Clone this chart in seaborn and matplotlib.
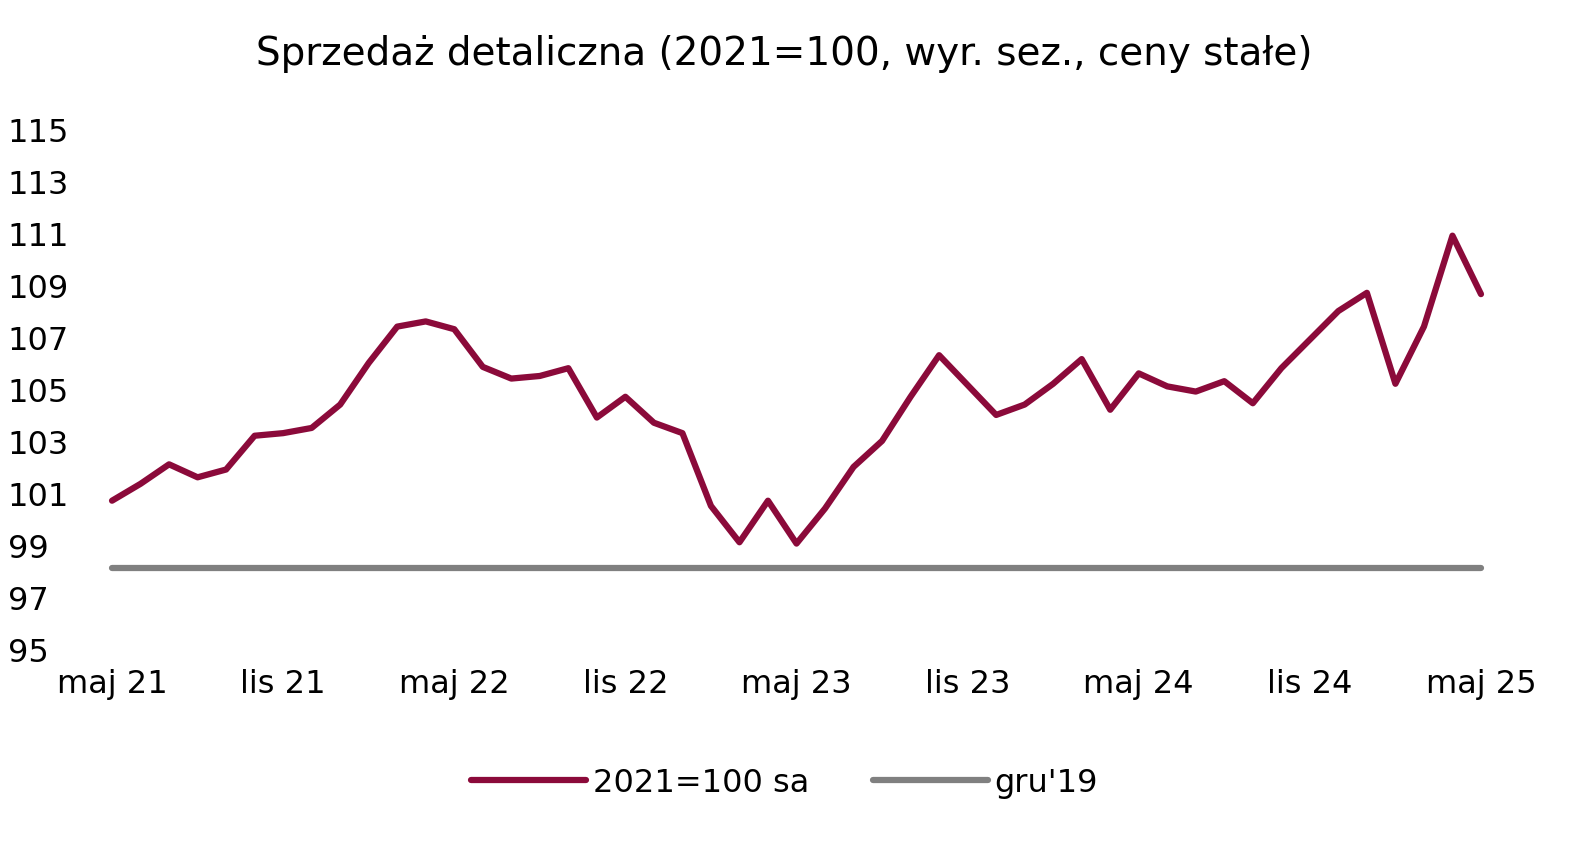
import matplotlib
matplotlib.use("Agg")
import matplotlib.pyplot as plt
import seaborn as sns
import pandas as pd
import numpy as np

tick_labels = ["maj 21", "lis 21", "maj 22", "lis 22", "maj 23", "lis 23", "maj 24", "lis 24", "maj 25"]
sales = [100.7, 101.35, 102.1, 101.6, 101.9, 103.2, 103.3, 103.5, 104.4, 106.0, 107.4, 107.6,
         107.3, 105.85, 105.4, 105.5, 105.8, 103.9, 104.7, 103.7, 103.3, 100.5, 99.1, 100.7,
         99.05, 100.4, 102.0, 103.0, 104.7, 106.3, 105.15, 104.0, 104.4, 105.2, 106.15, 104.2,
         105.6, 105.1, 104.9, 105.3, 104.45, 105.8, 106.9, 108.0, 108.7, 105.2, 107.4, 110.9, 108.65]
base_level = 98.1

sns.set_theme(style="white")
plt.rcParams['font.family'] = ['DejaVu Sans']
plt.rcParams['text.color'] = 'black'

n = len(sales)
df = pd.DataFrame({"m": np.arange(n), "2021=100 sa": sales, "gru'19": [base_level] * n})

fig = plt.figure(figsize=(15.69, 8.45), dpi=100)
ax = fig.add_axes([0.0714, 0.231, 0.8725, 0.615])
sns.lineplot(data=df, x="m", y="2021=100 sa", ax=ax, color="#8B0A3A", lw=4.5,
             label="2021=100 sa", solid_joinstyle="round", solid_capstyle="round", clip_on=False)
sns.lineplot(data=df, x="m", y="gru'19", ax=ax, color="#808080", lw=4.5,
             label="gru'19", solid_capstyle="round", clip_on=False)
ax.set_xlim(0, n - 1)
ax.set_ylim(95, 115)
ax.set_yticks(range(95, 116, 2))
ax.set_xticks(range(0, n, 6))
ax.set_xticklabels(tick_labels)
ax.set_xlabel("")
ax.set_ylabel("")
for s in ax.spines.values():
    s.set_visible(False)
ax.tick_params(axis="both", labelsize=23, length=0, colors="black")
ax.tick_params(axis="x", pad=14)
ax.tick_params(axis="y", pad=75)
for lab in ax.get_yticklabels():
    lab.set_horizontalalignment("left")
fig.suptitle("Sprzedaż detaliczna (2021=100, wyr. sez., ceny stałe)", fontsize=28, y=0.958, color="black")
ax.legend_.remove()
h, l = ax.get_legend_handles_labels()
leg = fig.legend(h, l, loc="center", bbox_to_anchor=(0.5, 0.073), ncol=2, frameon=False,
                 fontsize=23, handlelength=3.6, columnspacing=2.0, handletextpad=0.2)
for t in leg.get_texts():
    t.set_color("black")
fig.savefig("out.png", dpi=100)
